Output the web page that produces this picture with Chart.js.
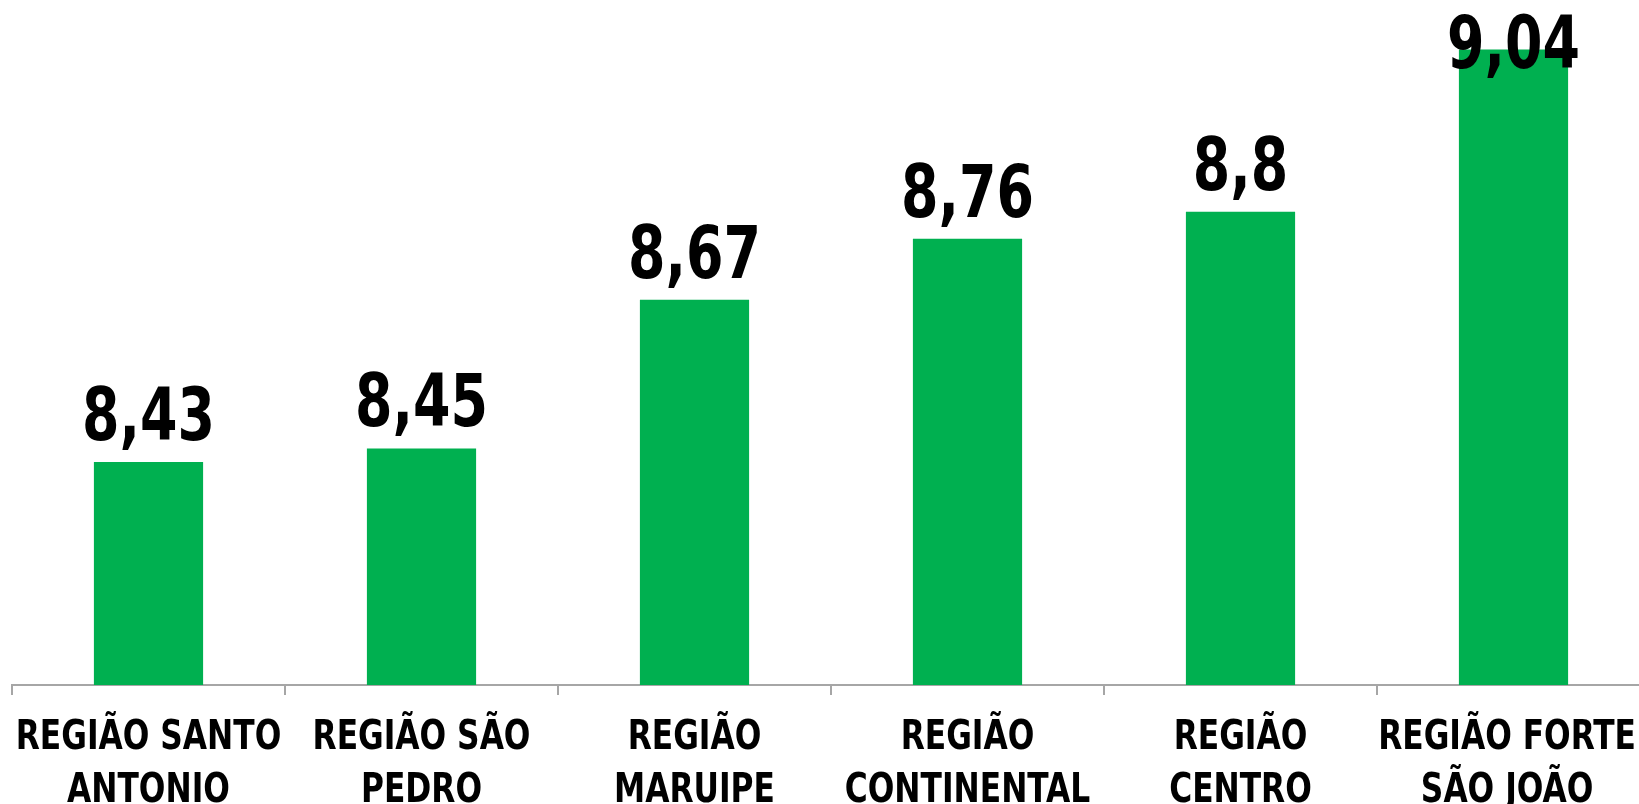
<!DOCTYPE html>
<html>
<head>
<meta charset="utf-8">
<script src="https://cdn.jsdelivr.net/npm/chart.js@4.4.1/dist/chart.umd.min.js"></script>
<style>
html,body{margin:0;padding:0;background:#fff;overflow:hidden;}
#wrap{width:1639px;height:804px;position:relative;overflow:hidden;}
canvas{display:block;}
</style>
</head>
<body>
<div id="wrap"><canvas id="c" width="1650" height="804"></canvas></div>
<script>
const categories = [
  ["REGIÃO SANTO", "ANTONIO"],
  ["REGIÃO SÃO", "PEDRO"],
  ["REGIÃO", "MARUIPE"],
  ["REGIÃO", "CONTINENTAL"],
  ["REGIÃO", "CENTRO"],
  ["REGIÃO FORTE", "SÃO JOÃO"]
];
const values = [8.43, 8.45, 8.67, 8.76, 8.8, 9.04];
const valueLabels = ["8,43", "8,45", "8,67", "8,76", "8,8", "9,04"];
const yMin = 8.1, yMax = 9.1;

const FONT = '"DejaVu Sans Condensed", "DejaVu Sans", sans-serif';
const VISIBLE_RIGHT = 1636;

function condensedText(ctx, text, x, y, sx) {
  ctx.save();
  ctx.translate(x, y);
  ctx.scale(sx, 1);
  ctx.fillText(text, 0, 0);
  ctx.restore();
}

const labelPlugin = {
  id: 'labels',
  afterDraw(chart) {
    const ctx = chart.ctx;
    const meta = chart.getDatasetMeta(0);
    ctx.save();
    ctx.fillStyle = '#000';
    ctx.textAlign = 'center';
    ctx.textBaseline = 'alphabetic';
    // value labels
    ctx.font = 'bold 73px ' + FONT;
    meta.data.forEach((bar, i) => {
      let y = bar.y - 22;
      if (y < 68) y = 68;
      condensedText(ctx, valueLabels[i], bar.x, y, 0.82);
    });
    // category labels
    const xs = chart.scales.x;
    const sx = 0.87;
    ctx.font = 'bold 40px ' + FONT;
    categories.forEach((lines, i) => {
      let x = xs.getPixelForValue(i);
      const maxW = Math.max(...lines.map(l => ctx.measureText(l).width * sx));
      if (x + maxW / 2 > VISIBLE_RIGHT) x = VISIBLE_RIGHT - maxW / 2;
      lines.forEach((ln, j) => {
        condensedText(ctx, ln, x, xs.top + 64 + j * 53, sx);
      });
    });
    ctx.restore();
  }
};

new Chart(document.getElementById('c'), {
  type: 'bar',
  data: {
    labels: categories,
    datasets: [{
      data: values,
      backgroundColor: '#00B050',
      borderWidth: 0,
      categoryPercentage: 1.0,
      barPercentage: 0.4
    }]
  },
  options: {
    responsive: false,
    animation: false,
    layout: { padding: { left: 12, right: 0, top: 9, bottom: 0 } },
    plugins: { legend: { display: false }, tooltip: { enabled: false } },
    scales: {
      y: { display: false, min: yMin, max: yMax },
      x: {
        afterFit(scale) { scale.height = 119; },
        border: { display: true, color: '#A6A6A6', width: 2 },
        grid: { display: true, offset: true, drawOnChartArea: false, drawTicks: true, tickLength: 10, color: '#A6A6A6', lineWidth: 2 },
        ticks: { display: false }
      }
    }
  },
  plugins: [labelPlugin]
});
</script>
</body>
</html>
